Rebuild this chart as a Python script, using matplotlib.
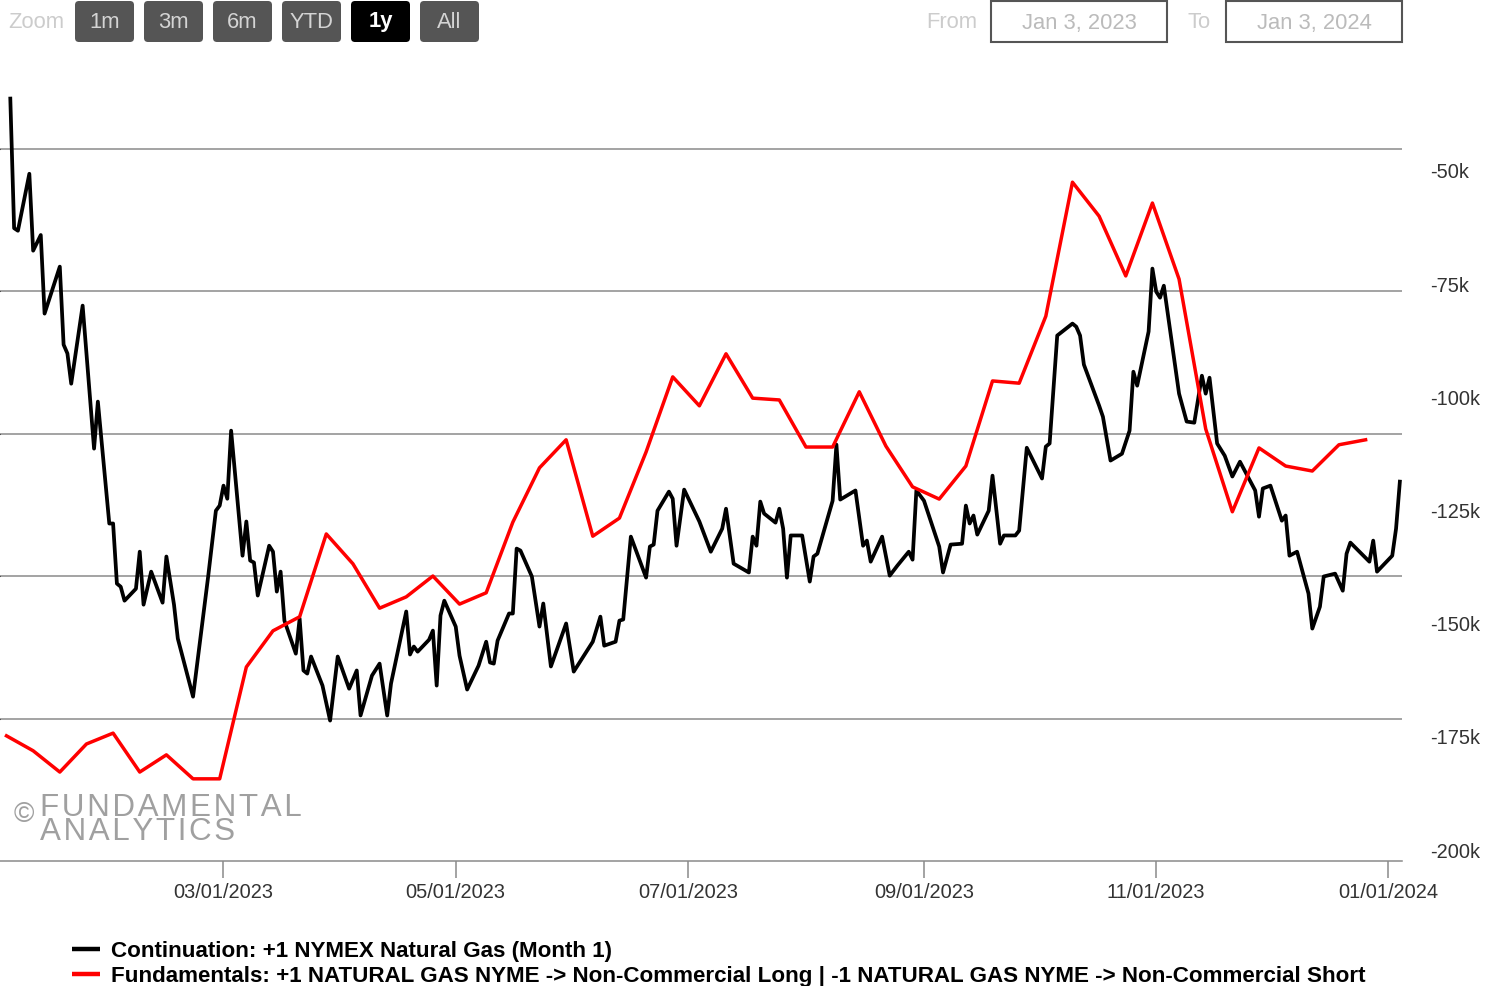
import numpy as np
import pandas as pd
import matplotlib
matplotlib.use("Agg")
import matplotlib.pyplot as plt
import matplotlib.dates as mdates
from matplotlib.patches import FancyBboxPatch, Rectangle
from matplotlib.ticker import FixedLocator, FuncFormatter

plt.rcParams["font.family"] = ["Liberation Sans", "DejaVu Sans"]

START = pd.Timestamp("2023-01-03")
GAS_START = pd.Timestamp("2023-01-04")

# front month natural gas: day offsets from GAS_START and price
gas_day = [0, 1, 2, 5, 6, 8, 9, 13, 14, 15, 16, 19, 22, 23, 26, 27, 28, 29, 30, 33,
           34, 35, 37, 40, 41, 43, 44, 48, 52, 54, 55, 56, 57, 58, 61, 62, 63, 64, 65, 68,
           69, 70, 71, 72, 75, 76, 77, 78, 79, 82, 84, 86, 89, 91, 92, 95, 97, 99, 100, 104,
           105, 106, 107, 110, 111, 112, 113, 114, 117, 118, 120, 123, 125, 126, 127, 128, 131, 132, 133, 134,
           137, 139, 140, 142, 146, 148, 153, 155, 156, 159, 160, 161, 163, 167, 168, 169, 170, 173, 174, 175,
           177, 181, 184, 187, 188, 190, 194, 195, 196, 197, 198, 201, 202, 203, 204, 205, 208, 210, 211, 212,
           216, 217, 218, 222, 224, 225, 226, 229, 231, 233, 236, 237, 238, 240, 244, 245, 247, 250, 251, 252,
           253, 254, 257, 258, 260, 261, 264, 265, 267, 271, 272, 273, 275, 279, 280, 281, 282, 286, 287, 289,
           292, 294, 295, 296, 299, 300, 301, 302, 303, 307, 309, 311, 313, 314, 315, 317, 319, 321, 323, 327,
           328, 329, 331, 334, 335, 336, 338, 341, 342, 344, 345, 348, 350, 351, 352, 357, 358, 359, 363, 364,
           365]
gas_price = [4.177, 3.722, 3.713, 3.913, 3.643, 3.698, 3.422, 3.587, 3.313, 3.282, 3.176, 3.450, 2.948, 3.113, 2.685, 2.685, 2.474, 2.463, 2.414, 2.456,
             2.586, 2.400, 2.516, 2.407, 2.569, 2.400, 2.281, 2.077, 2.502, 2.730, 2.748, 2.818, 2.772, 3.011, 2.572, 2.692, 2.555, 2.548, 2.432, 2.607,
             2.586, 2.446, 2.516, 2.344, 2.228, 2.351, 2.169, 2.158, 2.218, 2.116, 1.993, 2.218, 2.105, 2.169, 2.011, 2.151, 2.193, 2.011, 2.123, 2.376,
             2.225, 2.253, 2.235, 2.277, 2.309, 2.116, 2.362, 2.414, 2.323, 2.221, 2.102, 2.186, 2.270, 2.197, 2.193, 2.274, 2.369, 2.369, 2.597, 2.590,
             2.499, 2.323, 2.404, 2.183, 2.334, 2.165, 2.270, 2.358, 2.256, 2.270, 2.344, 2.348, 2.639, 2.495, 2.604, 2.611, 2.730, 2.797, 2.772, 2.607,
             2.804, 2.692, 2.586, 2.667, 2.737, 2.544, 2.513, 2.639, 2.607, 2.762, 2.720, 2.688, 2.737, 2.667, 2.495, 2.643, 2.643, 2.481, 2.569, 2.579,
             2.765, 2.962, 2.769, 2.801, 2.607, 2.625, 2.551, 2.639, 2.502, 2.537, 2.586, 2.558, 2.801, 2.765, 2.604, 2.513, 2.611, 2.614, 2.748, 2.685,
             2.713, 2.646, 2.730, 2.853, 2.614, 2.643, 2.643, 2.660, 2.951, 2.843, 2.955, 2.966, 3.345, 3.387, 3.376, 3.345, 3.243, 3.099, 3.060, 2.906,
             2.930, 3.011, 3.218, 3.169, 3.359, 3.580, 3.499, 3.478, 3.520, 3.141, 3.043, 3.039, 3.204, 3.141, 3.197, 2.966, 2.923, 2.850, 2.902, 2.801,
             2.709, 2.808, 2.818, 2.695, 2.713, 2.572, 2.586, 2.439, 2.316, 2.393, 2.499, 2.509, 2.449, 2.579, 2.618, 2.551, 2.625, 2.516, 2.572, 2.667,
             2.832]

# weekly net non-commercial position (long - short), thousands of contracts
cot_net_k = [-175.0, -178.3, -183.0, -176.8, -174.4, -183.0, -179.2, -184.5, -184.5, -159.8,
             -151.8, -148.7, -130.4, -137.0, -146.8, -144.3, -139.7, -145.9, -143.4, -127.8,
             -115.8, -109.6, -130.9, -126.9, -112.3, -95.7, -102.1, -90.6, -100.4, -100.8,
             -111.2, -111.2, -99.0, -111.0, -120.0, -122.7, -115.4, -96.6, -97.1, -82.3,
             -52.7, -60.2, -73.4, -57.3, -74.1, -107.2, -125.5, -111.4, -115.4, -116.5,
             -110.7, -109.6]

x_ticks = pd.date_range("2023-03-01", "2024-01-01", freq="2MS")
red_ticks = [-200, -175, -150, -125, -100, -75, -50]

legend_black = "Continuation: +1 NYMEX Natural Gas (Month 1)"
legend_red = ("Fundamentals: +1 NATURAL GAS NYME -> Non-Commercial Long | "
              "-1 NATURAL GAS NYME -> Non-Commercial Short")

gas_dates = GAS_START + pd.to_timedelta(gas_day, unit="D")
cot_dates = START + pd.to_timedelta(np.arange(len(cot_net_k)) * 7, unit="D")

W, H = 1497, 987
fig = plt.figure(figsize=(W / 100, H / 100), dpi=100)
fig.patch.set_facecolor("white")

# plot area in pixels: x 0..1402, y 60..862
ax = fig.add_axes([0, (H - 862) / H, 1402 / W, (862 - 60) / H])
ax.plot(gas_dates, gas_price, color="black", lw=2.7, solid_joinstyle="round", zorder=3)

PX_DAY = 3.807
t0 = mdates.date2num(START)
ax.set_xlim(t0 - 6.5 / PX_DAY, t0 + (1402 - 6.5) / PX_DAY)
ax.set_ylim(1.5, 1.5 + 802 / 284.8)
ax.set_yticks([2.0, 2.5, 3.0, 3.5, 4.0])
ax.tick_params(axis="y", left=False, labelleft=False)
ax.grid(axis="y", color="#8a8a8a", lw=1.1)
ax.set_axisbelow(True)

ax.xaxis.set_major_locator(FixedLocator(mdates.date2num(x_ticks)))
ax.xaxis.set_major_formatter(mdates.DateFormatter("%m/%d/%Y"))
ax.tick_params(axis="x", length=12.5, width=1.1, color="#8a8a8a", pad=2.5,
               labelsize=14.4, labelcolor="#333333")
for s in ["top", "left", "right"]:
    ax.spines[s].set_visible(False)
ax.spines["bottom"].set_color("#8a8a8a")
ax.spines["bottom"].set_linewidth(1.1)

ax2 = ax.twinx()
ax2.plot(cot_dates, cot_net_k, color="#ff0000", lw=2.5, solid_joinstyle="round", zorder=4)
ax2.set_ylim(-200 - 12 / 4.527, -50 + (171 - 60) / 4.527)
ax2.yaxis.set_major_locator(FixedLocator(red_ticks))
ax2.yaxis.set_major_formatter(FuncFormatter(lambda v, p: f"{v:.0f}k"))
ax2.tick_params(axis="y", length=0, pad=20, labelsize=14.4, labelcolor="#333333")
for s in ax2.spines.values():
    s.set_visible(False)

# overlay in pixel coordinates for header, watermark and legend
ov = fig.add_axes([0, 0, 1, 1], zorder=10)
ov.set_xlim(0, W)
ov.set_ylim(H, 0)
ov.axis("off")
ov.patch.set_alpha(0)

ov.text(8, 23, "Zoom", fontsize=15.8, color="#cccccc", ha="left", va="center")
buttons = ["1m", "3m", "6m", "YTD", "1y", "All"]
for i, b in enumerate(buttons):
    x0 = 75 + i * 69
    active = b == "1y"
    ov.add_patch(FancyBboxPatch((x0, 2), 59, 41, boxstyle="round,pad=0,rounding_size=4",
                                fc="black" if active else "#555555", ec="none"))
    ov.text(x0 + 29.5, 22, b, fontsize=15.8, ha="center", va="center",
            color="white" if active else "#d4d4d4",
            fontweight="bold" if active else "normal")

ov.text(926, 23, "From", fontsize=15.8, color="#cccccc", ha="left", va="center")
ov.text(1188, 23, "To", fontsize=15.8, color="#cccccc", ha="left", va="center")
for x0, label in [(991, "Jan 3, 2023"), (1226, "Jan 3, 2024")]:
    ov.add_patch(Rectangle((x0, 2), 176, 41, fc="white", ec="#555555", lw=1.5))
    ov.text(x0 + 88, 23, label, fontsize=15.8, color="#bbbbbb", ha="center", va="center")

# watermark, letter-spaced with hair spaces
hair = "\u200a"
mark = hair.join("FUNDAMENTAL") + "\n" + hair.join("ANALYTICS")
ov.text(14, 815, "\u00a9", fontsize=20, color="#a0a0a0", ha="left", va="center")
ov.text(40, 840, mark, fontsize=22.6, color="#a0a0a0", ha="left", va="baseline",
        linespacing=0.76)

# legend
for y, col, txt in [(950, "black", legend_black), (975, "#ff0000", legend_red)]:
    ov.plot([72, 100], [y, y], color=col, lw=3.2, solid_capstyle="butt")
    ov.text(111, y + 1.5, txt, fontsize=16.1, fontweight="bold", color="black",
            ha="left", va="center")

fig.savefig("out.png", dpi=100)
